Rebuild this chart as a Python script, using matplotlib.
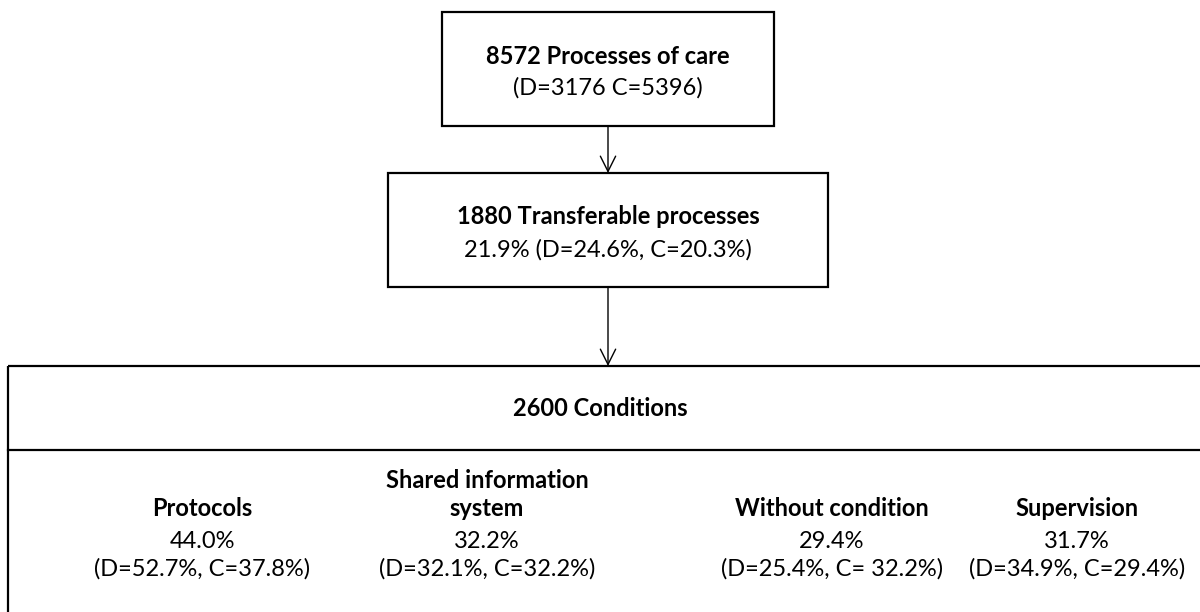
import matplotlib.pyplot as plt
from matplotlib.patches import Rectangle

plt.rcParams['font.family'] = ['Lato', 'DejaVu Sans']

top_title = '8572 Processes of care'
top_sub = '(D=3176 C=5396)'
mid_title = '1880 Transferable processes'
mid_sub = '21.9% (D=24.6%, C=20.3%)'
cond_title = '2600 Conditions'
cond_names = ['Protocols', 'Shared information\nsystem', 'Without condition', 'Supervision']
cond_pct = ['44.0%', '32.2%', '29.4%', '31.7%']
cond_split = ['(D=52.7%, C=37.8%)', '(D=32.1%, C=32.2%)',
              '(D=25.4%, C= 32.2%)', '(D=34.9%, C=29.4%)']
cond_x = [202, 487, 832, 1077]

fig = plt.figure(figsize=(12, 6.12), dpi=100)
ax = fig.add_axes([0, 0, 1, 1])
ax.set_xlim(0, 1200)
ax.set_ylim(612, 0)
ax.axis('off')

fs = 17
lw = 1.6

# boxes
ax.add_patch(Rectangle((442, 12), 332, 114, fill=False, lw=lw, ec='black'))
ax.add_patch(Rectangle((388, 173), 440, 114, fill=False, lw=lw, ec='black'))
ax.add_patch(Rectangle((8, 366), 1200, 260, fill=False, lw=lw, ec='black'))
ax.plot([8, 1200], [450, 450], color='black', lw=lw)

# arrows
for y0, y1 in [(126, 173), (287, 366)]:
    ax.annotate('', xy=(608, y1), xytext=(608, y0),
                arrowprops=dict(arrowstyle='->,head_length=1.1,head_width=0.55',
                                lw=1.0, color='black', shrinkA=0, shrinkB=0))

ax.text(608, 57, top_title, ha='center', va='center', fontsize=fs, fontweight='bold')
ax.text(608, 88, top_sub, ha='center', va='center', fontsize=fs)
ax.text(608, 217, mid_title, ha='center', va='center', fontsize=fs, fontweight='bold')
ax.text(608, 250, mid_sub, ha='center', va='center', fontsize=fs)
ax.text(600, 408, cond_title, ha='center', va='center', fontsize=fs, fontweight='bold')

for x, name, pct, split in zip(cond_x, cond_names, cond_pct, cond_split):
    ax.text(x, 520, name, ha='center', va='bottom', fontsize=fs, fontweight='bold',
            linespacing=1.25)
    ax.text(x, 541, pct, ha='center', va='center', fontsize=fs)
    ax.text(x, 569, split, ha='center', va='center', fontsize=fs)

fig.savefig('out.png', dpi=100)
